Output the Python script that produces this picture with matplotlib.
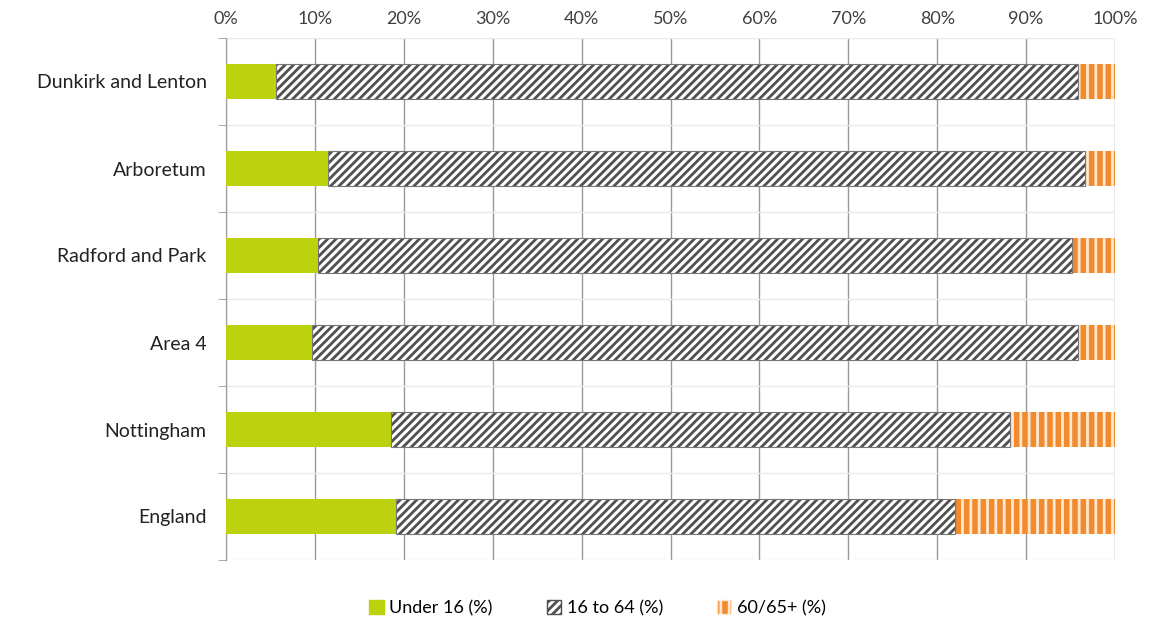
import matplotlib
matplotlib.use("Agg")
import matplotlib.pyplot as plt
import numpy as np
from matplotlib.patches import Patch

categories = ["Dunkirk and Lenton", "Arboretum", "Radford and Park", "Area 4", "Nottingham", "England"]
under16 = [5.6, 11.5, 10.3, 9.7, 18.6, 19.1]
age16_64 = [90.2, 85.1, 84.9, 86.1, 69.6, 62.9]
age60plus = [4.2, 3.4, 4.8, 4.2, 11.8, 18.0]
series_labels = ["Under 16 (%)", "16 to 64 (%)", "60/65+ (%)"]
xticks = list(range(0, 101, 10))

plt.rcParams['font.family'] = ['Lato', 'DejaVu Sans']
plt.rcParams['hatch.linewidth'] = 2.0

green = "#BCD20E"
orange = "#F28A2E"
hatchgray = "#505050"

fig = plt.figure(figsize=(11.49, 6.2), dpi=100)
ax = fig.add_axes([226/1149, 60/620, (1115-226)/1149, (582-60)/620])

y = np.arange(len(categories))
h = 0.40
u = np.array(under16)
m = np.array(age16_64)
o = np.array(age60plus)

ax.barh(y, u, height=h, color=green, edgecolor=green, linewidth=0, zorder=3)
ax.barh(y, m, left=u, height=h, facecolor="white", edgecolor=hatchgray, hatch="////", linewidth=0, zorder=3)
ax.barh(y, m, left=u, height=h, facecolor="none", edgecolor="#777777", linewidth=0.8, zorder=4)
ax.barh(y, o, left=u + m, height=h, facecolor=orange, edgecolor="#FFE8D2", hatch="||", linewidth=0, zorder=3)

ax.set_xlim(0, 100)
ax.set_ylim(len(categories) - 0.5, -0.5)
ax.xaxis.tick_top()
ax.set_xticks(xticks)
ax.set_xticklabels([f"{t}%" for t in xticks], fontsize=13, color="#404040")
ax.tick_params(axis='x', length=0, pad=8)
ax.set_yticks(y)
ax.set_yticklabels(categories, fontsize=14, color="#222222")
ax.tick_params(axis='y', which='major', length=0, pad=14)
ax.set_yticks(np.arange(len(categories) + 1) - 0.5, minor=True)
ax.tick_params(axis='y', which='minor', length=6, color="#999999")
ax.grid(axis='x', color="#999999", linewidth=1, zorder=0)
ax.grid(axis='y', which='minor', color="#EAEAEA", linewidth=1, zorder=0)
for s in ["top", "right", "bottom"]:
    ax.spines[s].set_visible(False)
ax.spines["left"].set_color("#999999")

handles = [
    Patch(facecolor=green, edgecolor=green, label=series_labels[0]),
    Patch(facecolor="white", edgecolor=hatchgray, hatch="////", label=series_labels[1]),
    Patch(facecolor=orange, edgecolor="#FFE8D2", hatch="||", label=series_labels[2]),
]
fig.legend(handles=handles, loc="lower center", bbox_to_anchor=(0.52, -0.02), ncol=3,
           frameon=False, fontsize=13, handlelength=0.8, handleheight=0.8,
           handletextpad=0.3, columnspacing=3.0)

fig.savefig("out.png", dpi=100)
